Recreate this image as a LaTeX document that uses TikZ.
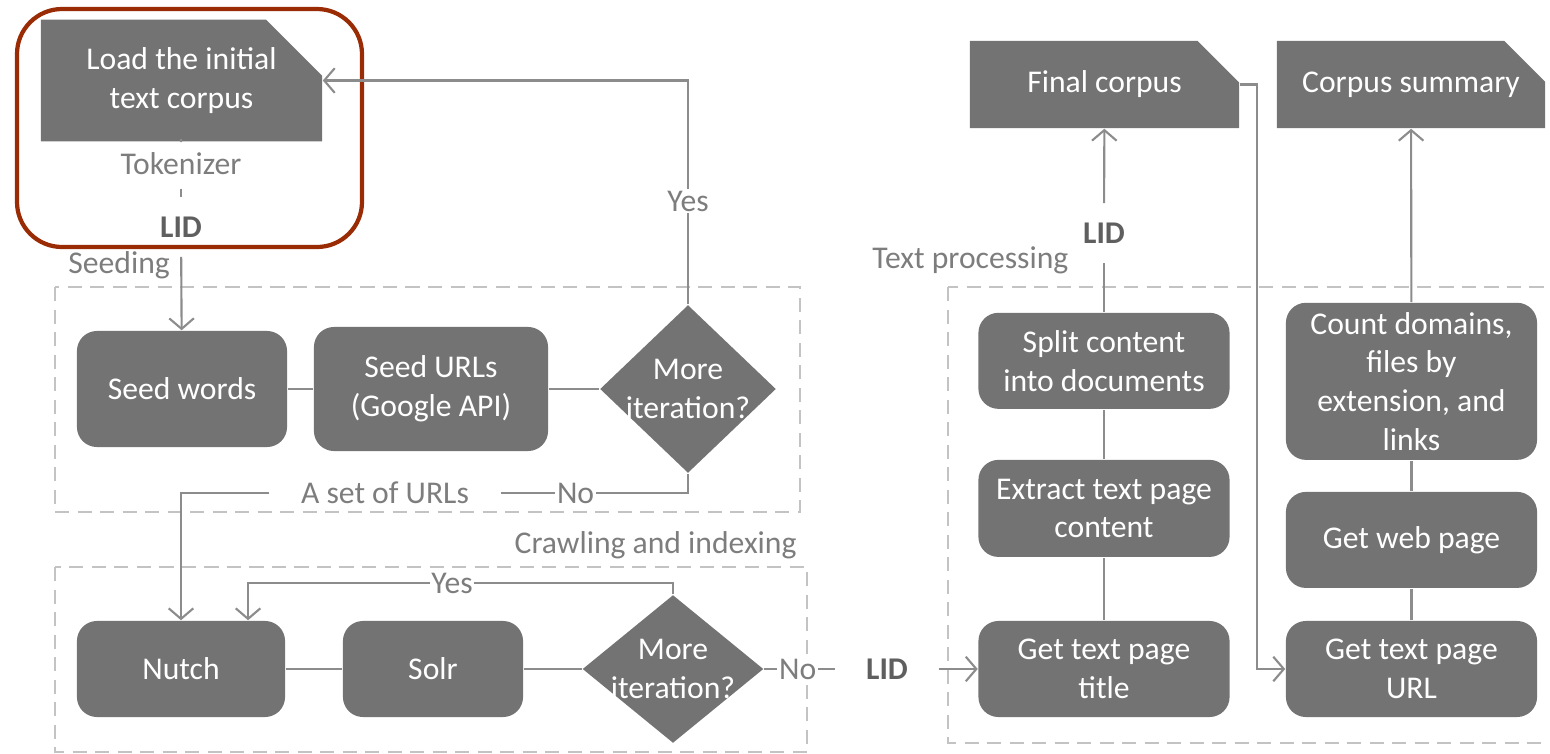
\documentclass[tikz,border=0pt]{standalone}
\usepackage{fontspec}
\setmainfont{Carlito}
\usetikzlibrary{arrows.meta,positioning,shapes.geometric,shapes.misc}

\definecolor{boxgray}{RGB}{115,115,115}
\definecolor{linegray}{RGB}{140,140,140}
\definecolor{dashgray}{RGB}{195,195,195}
\definecolor{labelgray}{RGB}{125,125,125}
\definecolor{lidgray}{RGB}{95,95,95}
\definecolor{rustred}{RGB}{153,43,5}

\tikzset{
    process/.style  = {rectangle, rounded corners=0.2cm, fill=boxgray, text=white, align=center, inner sep=0pt},
    document/.style = {chamfered rectangle, chamfered rectangle corners=north east,
                       chamfered rectangle xsep=0.28cm, chamfered rectangle ysep=0.28cm,
                       fill=boxgray, text=white, align=center, inner sep=0pt},
    decision/.style = {diamond, fill=boxgray, inner sep=0pt},
    note/.style     = {text=labelgray},
    lid/.style      = {text=lidgray, font=\fontsize{9}{11}\selectfont\bfseries, inner xsep=0.3cm, inner ysep=0.19cm},
    yesno/.style    = {fill=white, text=labelgray, inner sep=0.5pt},
    conn/.style     = {draw=linegray, line width=0.6pt},
    arr/.style      = {conn, -{Straight Barb[length=3pt,width=7pt]}},
    group/.style    = {draw=dashgray, line width=0.8pt, dash pattern=on 4pt off 2.4pt},
    highlight/.style= {draw=rustred, line width=1.2pt, rounded corners=0.45cm}
}

\begin{document}
\begin{tikzpicture}[x=0.01cm, y=-0.01cm, on grid, font=\fontsize{9}{11}\selectfont]
                \useasboundingbox (0,0) rectangle (1550,754);

                \draw[group]     (55,287)  rectangle (800,512);
                \draw[group]     (55,567)  rectangle (807,752);
                \draw[group]     (948,287) rectangle (1600,743);
                \draw[highlight] (17,9)    rectangle (362,247);

                \node[document, minimum width=2.81cm, minimum height=0.97cm] (load)       at (181.5,80.5) {Load the initial\\text corpus};
                \node[note, inner ysep=0.13cm]                              (tok)        at (181,164)    {Tokenizer};
                \node[lid]                                                  (lid_1)      at (181,227)    {LID};
                \node[note, anchor=west]                                    (seeding)    at (56,265)     {Seeding};
                \node[process, minimum width=2.10cm, minimum height=1.16cm] (seed_words) at (182,389)    {Seed words};
                \node[process, minimum width=2.34cm, minimum height=1.24cm] (seed_urls)  at (431,389)    {Seed URLs\\(Google API)};
                \node[decision, minimum width=1.76cm, minimum height=1.68cm,
                      label={[text=white, align=center]center:More\\iteration?}] (more_1) at (688,389) {};
                \node[note, inner xsep=0.31cm]                              (urls)       at (385,493)    {A set of URLs};

                \node[note, anchor=east]                                    (crawling)   at (809,545)    {Crawling and indexing};
                \node[process, minimum width=2.08cm, minimum height=0.96cm] (nutch)      at (181,669)    {Nutch};
                \node[process, minimum width=1.80cm, minimum height=0.96cm] (solr)       at (433,669)    {Solr};
                \node[decision, minimum width=1.81cm, minimum height=1.48cm,
                      label={[text=white, align=center]center:More\\iteration?}] (more_2) at (673,669) {};
                \node[lid]                                                  (lid_2)      at (887,669)    {LID};

                \node[note, anchor=west]                                    (textproc)   at (860,260)    {Text processing};
                \node[process, minimum width=2.51cm, minimum height=0.96cm] (title)      at (1104,669)   {Get text page\\title};
                \node[process, minimum width=2.51cm, minimum height=0.97cm, above=1.605cm of title]   (extract) {Extract text page\\content};
                \node[process, minimum width=2.51cm, minimum height=0.96cm, above=1.475cm of extract] (split)   {Split content\\into documents};
                \node[lid]                                                  (lid_3)      at (1104,233)   {LID};
                \node[document, minimum width=2.69cm, minimum height=0.87cm] (final)     at (1104.5,84.5) {Final corpus};

                \node[process, minimum width=2.51cm, minimum height=0.96cm] (page_url)   at (1411.5,669) {Get text page\\URL};
                \node[process, minimum width=2.51cm, minimum height=0.96cm, above=1.29cm of page_url]  (web_page) {Get web page};
                \node[process, minimum width=2.51cm, minimum height=1.57cm, above=1.585cm of web_page] (count)    {Count domains,\\files by\\extension, and\\links};
                \node[document, minimum width=2.68cm, minimum height=0.87cm] (summary)   at (1411,84.5)  {Corpus summary};

                \draw[conn] (load) -- (tok);
                \draw[conn] (tok) -- (lid_1);
                \draw[arr]  (lid_1) -- (seed_words);
                \draw[conn] (seed_words) -- (seed_urls);
                \draw[conn] (seed_urls) -- (more_1);
                \draw[arr]  (more_1.north) |- node[yesno, pos=0.23] {Yes} (load.east);
                \draw[conn] (more_1.south) |- node[yesno, pos=0.8] {No} (urls.east);
                \draw[arr]  (urls.west) -| (nutch.north);

                \draw[conn] (nutch) -- (solr);
                \draw[conn] (solr) -- (more_2);
                \draw[arr]  (more_2.north) -- ++(0,-11) -| node[yesno, pos=0.26] {Yes} ([xshift=0.67cm]nutch.north);
                \draw[conn] (more_2) -- node[yesno, pos=0.47] {No} (lid_2);
                \draw[arr]  (lid_2) -- (title);

                \draw[conn] (title) -- (extract);
                \draw[conn] (extract) -- (split);
                \draw[conn] (split) -- (lid_3);
                \draw[arr]  (lid_3) -- (final);
                \draw[arr]  (final.east) -- ++(17,0) |- (page_url.west);
                \draw[conn] (page_url) -- (web_page);
                \draw[conn] (web_page) -- (count);
                \draw[arr]  (count) -- (summary);
            \end{tikzpicture}
\end{document}
